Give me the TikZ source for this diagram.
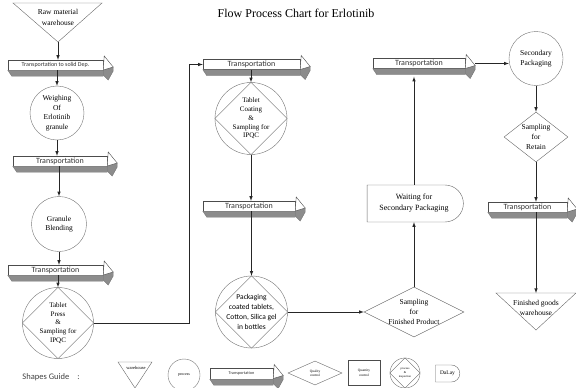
\documentclass[tikz,border=0pt]{standalone}
\usepackage{fontspec}
\setmainfont{Liberation Serif}
\newfontfamily\calib{Carlito}
\usetikzlibrary{shapes.geometric,shapes.misc}

\tikzset{
  trans/.style={draw=black!70, fill=white, minimum height=10pt, inner sep=0pt, text=black!80, font=\calib\fontsize{8}{9}\selectfont},
  proc/.style={circle, draw=black!55, minimum size=#1, inner sep=-2pt, align=center, font=\fontsize{7.5}{9.5}\selectfont},
  check/.style={diamond, draw=black!60, align=center, inner sep=-2pt, font=\fontsize{7.5}{9.8}\selectfont},
  waitbox/.style={rounded rectangle, rounded rectangle left arc=none, draw=black!60, align=center, font=\fontsize{8}{11}\selectfont},
  link/.style={draw=black!85, line width=0.6pt, ->},
}

% shadow and head of a transport bar
\newcommand{\barside}[1]{%
  \filldraw[draw=black!55, fill=black!45] (#1.south west) -- ([shift={(4,6)}]#1.south west) -- ([shift={(0,6)}]#1.south east) -- (#1.south east) -- cycle;
  \filldraw[draw=black!55, fill=black!45] ([shift={(0,5)}]#1.east) -- ([shift={(10,2)}]#1.east) -- ([shift={(10,6)}]#1.east) -- ([shift={(5,15)}]#1.east) -- ([shift={(0,10)}]#1.east) -- cycle;
  \filldraw[draw=black!70, fill=white] ([shift={(1,-9)}]#1.east) -- ([shift={(10,2)}]#1.east) -- ([shift={(0,5)}]#1.east) -- cycle;
}

\begin{document}
\begin{tikzpicture}[x=1pt, y=-1pt, >=latex]
  \useasboundingbox (0,0) rectangle (576,388);
  \node[font=\fontsize{12}{14}\selectfont] (title) at (296,13) {Flow Process Chart for Erlotinib};  % Title

  % first column
  \draw[black!60] (13,3) -- (102,3) -- (58,42) -- cycle;  % Store
  \node[align=center, font=\fontsize{7.5}{11}\selectfont] (raw) at (58,17.5) {Raw material\\warehouse};
  \coordinate (rawtip) at (58,42);
  \node[trans, minimum width=95pt, font=\calib\fontsize{6}{7}\selectfont] (t1) at (55.5,65) {Transportation to solid Dep.};
  \node[proc=54pt] (weigh) at (57,113) {Weighing\\Of\\Erlotinib\\granule};
  \node[trans, minimum width=94pt] (t2) at (60,161) {Transportation};
  \node[proc=55pt] (blend) at (59,224) {Granule\\Blending};
  \node[trans, minimum width=95pt] (t3) at (55.5,270) {Transportation};
  \node[proc=71pt, font=\fontsize{7}{8.8}\selectfont] (press) at (58,323) {Tablet\\Press\\\&\\Sampling for\\IPQC};

  % second column
  \node[trans, minimum width=97pt] (t4) at (251.5,64.5) {Transportation};
  \node[proc=72pt, font=\fontsize{7}{8.8}\selectfont] (coat) at (251,118.5) {Tablet\\Coating\\\&\\Sampling for\\IPQC};
  \node[trans, minimum width=92pt] (t5) at (249,206) {Transportation};
  \node[proc=72pt, font=\calib\fontsize{7.5}{10}\selectfont] (pack) at (251.5,312) {Packaging\\coated tablets,\\Cotton, Silica gel\\in bottles};

  % third column
  \node[trans, minimum width=92pt] (t6) at (419,63.5) {Transportation};
  \node[waitbox, minimum width=103pt, minimum height=37pt] (wait) at (414,203.5) {Waiting for\\Secondary Packaging};
  \node[check, aspect=2, minimum width=100pt, minimum height=50pt] (fin) at (414,312) {Sampling\\for\\Finished Product};

  % fourth column
  \node[proc=54pt] (sec) at (536,58.5) {Secondary\\Packaging};
  \node[check, aspect=1.3, minimum width=64pt, minimum height=50pt] (ret) at (536,137) {Sampling\\for\\Retain};
  \node[trans, minimum width=79pt] (t7) at (527.5,207) {Transportation};
  \draw[black!60] (496,293) -- (576,293) -- (536,330) -- cycle;  % Store
  \node[align=center, font=\fontsize{7.5}{10}\selectfont] (fg) at (536,308) {Finished goods\\warehouse};
  \coordinate (fgtop) at (536,293);

  % shapes guide
  \node[font=\calib\fontsize{8.5}{10}\selectfont, text=black!75] (guide) at (51,377) {Shapes Guide\hspace{8pt}:};
  \draw[black!60] (118,362) -- (152,362) -- (135,388) -- cycle;  % Store
  \node[font=\fontsize{4.5}{5}\selectfont] (gstore) at (136,368) {warehouse};
  \node[proc=32pt, font=\fontsize{4}{5}\selectfont] (gproc) at (184,375) {process};
  \node[trans, minimum width=63pt, minimum height=11pt, font=\calib\fontsize{4.3}{5}\selectfont] (tg) at (241.5,373.5) {Transportation};
  \node[check, aspect=2.2, minimum width=54pt, minimum height=24pt, font=\fontsize{3.5}{4.2}\selectfont] (gqual) at (315,373) {Quality\\control};
  \node[draw=black!70, minimum width=32pt, minimum height=25pt, align=center, font=\fontsize{3.5}{5}\selectfont] (gquant) at (364,372.5) {Quantity\\control};
  \node[proc=30pt, font=\fontsize{3}{4}\selectfont] (ginsp) at (405,373) {process\\\&\\inspection};
  \node[waitbox, minimum width=31pt, minimum height=17pt, font=\fontsize{5.5}{6}\selectfont] (gdelay) at (447.5,373.5) {DaLay};

  \foreach \n in {press,coat,pack,ginsp}
    \draw[black!60] (\n.north) -- (\n.east) -- (\n.south) -- (\n.west) -- cycle;  % Inner diamond
  \foreach \n in {t1,t2,t3,t4,t5,t6,t7,tg}
    \barside{\n};

  % connectors
  \draw[link] (rawtip) -- (rawtip |- t1.north);
  \draw[link] (weigh.north |- t1.south) -- (weigh.north);
  \draw[link] (weigh.south) -- (weigh.south |- t2.north);
  \draw[link] (blend.north |- t2.south) -- (blend.north);
  \draw[link] (blend.south) -- (blend.south |- t3.north);
  \draw[link] (press.north |- t3.south) -- (press.north);
  \draw[link] (press.east) -| ([xshift=-14pt]t4.west) -- (t4.west);
  \draw[link] (coat.north |- t4.south) -- (coat.north);
  \draw[link] (coat.south) -- (coat.south |- t5.north);
  \draw[link] (pack.north |- t5.south) -- (pack.north);
  \draw[link] (pack.east) -- (fin.west);
  \draw[link] (fin.north) -- (wait.south);
  \coordinate (t6foot) at ([yshift=-8pt]t6.south);
  \draw[link] (wait.north) -- (wait.north |- t6foot);
  \draw[link] ([xshift=10pt]t6.east) -- (t6.east -| sec.west);
  \draw[link] (sec.south) -- (ret.north);
  \draw[link] (ret.south) -- (ret.south |- t7.north);
  \draw[link] (ret.south |- t7.south) -- (fgtop);
\end{tikzpicture}
\end{document}
